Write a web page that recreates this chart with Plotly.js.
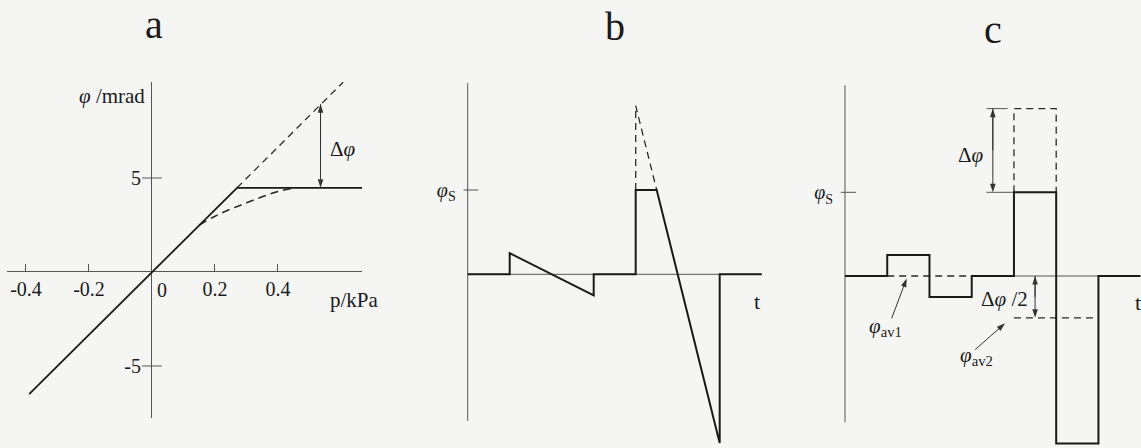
<!DOCTYPE html>
<html><head><meta charset="utf-8">
<script src="https://cdn.plot.ly/plotly-3.0.1.min.js"></script>
<style>html,body{margin:0;padding:0;background:#f5f5f3}</style>
</head><body><div id="chart" style="width:1141px;height:448px"></div>
<script>
// ---------- Panel a : phi (mrad) vs p (kPa) ----------
const aTickP = [-0.4, -0.2, 0.2, 0.4];
const aTickPLabels = ['-0.4', '-0.2', '0.2', '0.4'];
const aTickPhi = [-5, 5];
const aTickPhiLabels = ['-5', '5'];
const aResponseP   = [-0.39, 0, 0.27, 0.667];
const aResponsePhi = [-6.5, 0, 4.48, 4.48];
const aLinearP   = [0.27, 0.607];
const aLinearPhi = [4.48, 10.1];
const aCurveP   = [0.15, 0.2, 0.25, 0.3, 0.35, 0.4, 0.45];
const aCurvePhi = [2.5, 2.97, 3.35, 3.68, 4.0, 4.28, 4.46];
const aDeltaP = [0.535, 0.535, 0.535], aDeltaPhi = [6.7, 8.93, 4.48];

// ---------- Panel b : clipped ramp signal ----------
const bT   = [0, 1, 1, 3, 3, 4, 4, 4.5, 6, 6, 7];
const bPhi = [0, 0, 0.25, -0.25, 0, 0, 1, 1, -2, 0, 0];
const bUnclippedT   = [4, 4, 4.5];
const bUnclippedPhi = [1, 2, 1];
const bXAxisT = [0, 7], bXAxisPhi = [0, 0];
const bYAxisT = [0, 0], bYAxisPhi = [-1.74, 2.27];
const bPhiS = 1;

// ---------- Panel c : clipped rectangular signal ----------
const cT   = [0, 1, 1, 2, 2, 3, 3, 4, 4, 5, 5, 6, 6, 7];
const cPhi = [0, 0, 0.25, 0.25, -0.25, -0.25, 0, 0, 1, 1, -2, -2, 0, 0];
const cUnclippedT   = [4, 4, 5, 5];
const cUnclippedPhi = [1, 2, 2, 1];
const cAv1T = [1, 3], cAv1Phi = [0, 0];
const cAv2T = [4, 6], cAv2Phi = [-0.5, -0.5];
const cXAxis1T = [0, 1], cXAxis2T = [3, 7], cXAxisPhi = [0, 0];
const cYAxisT = [0, 0], cYAxisPhi = [-1.75, 2.28];
const cGuideTopT = [3.35, 3.85], cGuideTopPhi = [2, 2];
const cGuideBotT = [3.35, 4], cGuideBotPhi = [1, 1];
const cPhiS = 1;
const cDeltaT = [3.5, 3.5, 3.5], cDeltaPhi = [1.5, 2, 1];
const cHalfT = [4.5, 4.5, 4.5], cHalfPhi = [-0.25, 0, -0.5];
const cAv1ArrowT = [1.105, 1.46], cAv1ArrowPhi = [-0.505, -0.03];
const cAv2ArrowT = [3.08, 3.79], cAv2ArrowPhi = [-0.88, -0.565];

// ---------- geometry ----------
const W = 1141, H = 448;
const FONT = '"Liberation Serif", "DejaVu Serif", serif';
const INK = '#1a1a1a', AX = '#555';
function xDom(o, k, r) { return [(o + r[0] * k) / W, (o + r[1] * k) / W]; }
function yDom(o, k, r) { return [1 - (o - r[0] * k) / H, 1 - (o - r[1] * k) / H]; }
function paperAt(dom, r, v) { return dom[0] + (v - r[0]) / (r[1] - r[0]) * (dom[1] - dom[0]); }

const A = {ox: 152, oy: 272, kx: 315, ky: 18.8, xr: [-0.4603, 0.6667], yr: [-7.766, 10.106]};
const B = {ox: 467.7, oy: 274.3, kx: 42, ky: 84.3, xr: [-0.1, 7.05], yr: [-2.058, 2.30]};
const C = {ox: 845, oy: 276, kx: 42.24, ky: 83.7, xr: [-0.1, 6.999], yr: [-2.05, 2.34]};
for (const P of [A, B, C]) { P.xd = xDom(P.ox, P.kx, P.xr); P.yd = yDom(P.oy, P.ky, P.yr); }

function ln(x, y, xa, ya, opt) {
  return Object.assign({x: x, y: y, xaxis: xa, yaxis: ya, mode: 'lines', hoverinfo: 'skip',
    showlegend: false, line: {color: INK, width: 2}}, opt || {});
}
// arrow: heads drawn at every point after the first, oriented along the path
function arw(x, y, xa, ya) {
  return {x: x, y: y, xaxis: xa, yaxis: ya, mode: 'lines+markers', hoverinfo: 'skip', showlegend: false,
    line: {color: '#333', width: 1},
    marker: {symbol: 'arrow', angleref: 'previous', size: 9, color: '#333', line: {width: 0}}};
}
const dashed = {line: {color: '#2a2a2a', width: 1.3, dash: '7px,5px'}};
const thin = {line: {color: AX, width: 1}};

const traces = [
  // a
  ln(aLinearP, aLinearPhi, 'x', 'y', dashed),
  ln(aCurveP, aCurvePhi, 'x', 'y', {line: {color: '#2a2a2a', width: 1.6, dash: '8px,5px', shape: 'spline'}}),
  ln(aResponseP, aResponsePhi, 'x', 'y', {line: {color: INK, width: 1.8}}),
  arw(aDeltaP, aDeltaPhi, 'x', 'y'),
  // b
  ln(bXAxisT, bXAxisPhi, 'x2', 'y2', thin),
  ln(bYAxisT, bYAxisPhi, 'x2', 'y2', thin),
  ln(bUnclippedT, bUnclippedPhi, 'x2', 'y2', dashed),
  ln(bT, bPhi, 'x2', 'y2'),
  // c
  ln(cXAxis1T, cXAxisPhi, 'x3', 'y3', thin),
  ln(cXAxis2T, cXAxisPhi, 'x3', 'y3', thin),
  ln(cYAxisT, cYAxisPhi, 'x3', 'y3', thin),
  ln(cAv1T, cAv1Phi, 'x3', 'y3', dashed),
  ln(cAv2T, cAv2Phi, 'x3', 'y3', dashed),
  ln(cUnclippedT, cUnclippedPhi, 'x3', 'y3', dashed),
  ln(cGuideTopT, cGuideTopPhi, 'x3', 'y3', thin),
  ln(cGuideBotT, cGuideBotPhi, 'x3', 'y3', thin),
  ln(cT, cPhi, 'x3', 'y3'),
  arw(cDeltaT, cDeltaPhi, 'x3', 'y3'),
  arw(cHalfT, cHalfPhi, 'x3', 'y3'),
  arw(cAv1ArrowT, cAv1ArrowPhi, 'x3', 'y3'),
  arw(cAv2ArrowT, cAv2ArrowPhi, 'x3', 'y3')
];

const tf = {family: FONT, size: 20, color: INK};
const hidden = {visible: false, fixedrange: true};
const layout = {
  width: W, height: H, margin: {l: 0, r: 0, t: 0, b: 0},
  paper_bgcolor: '#f5f5f3', plot_bgcolor: 'rgba(0,0,0,0)',
  font: {family: FONT, color: INK},
  xaxis: {domain: A.xd, range: A.xr, anchor: 'free', position: paperAt(A.yd, A.yr, 0),
    tickvals: aTickP, ticktext: aTickPLabels, ticks: 'inside', ticklen: 8, tickwidth: 1, tickcolor: AX,
    ticklabelstandoff: 3,
    showgrid: false, showline: false, zeroline: true, zerolinecolor: AX, zerolinewidth: 1,
    tickfont: tf, fixedrange: true},
  yaxis: {domain: A.yd, range: A.yr, anchor: 'free', position: paperAt(A.xd, A.xr, 0),
    tickvals: aTickPhi, ticktext: aTickPhiLabels, ticks: '', ticklabelstandoff: 11,
    showgrid: false, showline: false, zeroline: true, zerolinecolor: AX, zerolinewidth: 1,
    tickfont: tf, fixedrange: true},
  xaxis2: Object.assign({domain: B.xd, range: B.xr, anchor: 'y2'}, hidden),
  yaxis2: {domain: B.yd, range: B.yr, anchor: 'free', position: paperAt(B.xd, B.xr, 0),
    tickvals: [bPhiS], ticktext: ['<i>φ</i><sub>S</sub>'], ticks: '', ticklabelstandoff: 12,
    showgrid: false, showline: false, zeroline: false, tickfont: tf, fixedrange: true},
  xaxis3: Object.assign({domain: C.xd, range: C.xr, anchor: 'y3'}, hidden),
  yaxis3: {domain: C.yd, range: C.yr, anchor: 'free', position: paperAt(C.xd, C.xr, 0),
    tickvals: [cPhiS], ticktext: ['<i>φ</i><sub>S</sub>'], ticks: '', ticklabelstandoff: 12,
    showgrid: false, showline: false, zeroline: false, tickfont: tf, fixedrange: true},
  shapes: [], annotations: []
};

// crossing tick marks on vertical axes
function crossTick(xa, ya, v, half) {
  return {type: 'line', xref: xa, yref: ya, xsizemode: 'pixel', xanchor: 0, x0: -half, x1: half,
    y0: v, y1: v, line: {color: AX, width: 1}};
}
aTickPhi.forEach(v => layout.shapes.push(crossTick('x', 'y', v, 10)));
layout.shapes.push(crossTick('x2', 'y2', bPhiS, 10.5));
layout.shapes.push(crossTick('x3', 'y3', cPhiS, 11));

function txt(text, xa, ya, x, y, xanchor, size) {
  return {text: text, xref: xa, yref: ya, x: x, y: y, xanchor: xanchor || 'center', yanchor: 'middle',
    showarrow: false, font: {family: FONT, size: size || 20, color: INK}};
}
const an = layout.annotations;
function title(t, px, py) {
  an.push({text: t, xref: 'paper', yref: 'paper', x: px / W, y: 1 - py / H, showarrow: false,
    xanchor: 'center', yanchor: 'middle', font: {family: FONT, size: 40, color: INK}});
}
title('a', 153.5, 24); title('b', 615, 27); title('c', 992.5, 29);
// panel a
an.push(txt('<i>φ</i> /mrad', 'x', 'y', -0.016, 9.36, 'right', 21));
an.push(txt('p/kPa', 'x', 'y', 0.559, -1.49, 'left', 21));
an.push(txt('0', 'x', 'y', 0.031, -0.96, 'center'));
an.push(txt('Δ<i>φ</i>', 'x', 'y', 0.559, 6.55, 'left', 21));
an.push(txt('<i>φ</i><sub>S</sub>', 'x', 'y', 0.686, 4.36, 'left', 22));
// panel b
an.push(txt('<i>φ</i>', 'x2', 'y2', -0.35, 2.13, 'center', 21));
an.push(txt('t', 'x2', 'y2', 6.89, -0.325, 'center', 22));
// panel c
an.push(txt('<i>φ</i>', 'x3', 'y3', -0.28, 2.04, 'center', 21));
an.push(txt('t', 'x3', 'y3', 6.94, -0.32, 'center', 22));
an.push(txt('Δ<i>φ</i>', 'x3', 'y3', 3.33, 1.45, 'right', 21));
an.push(txt('Δ<i>φ</i> /2', 'x3', 'y3', 4.38, -0.27, 'right', 21));
an.push(txt('<i>φ</i><sub>av1</sub>', 'x3', 'y3', 0.95, -0.615, 'center', 21));
an.push(txt('<i>φ</i><sub>av2</sub>', 'x3', 'y3', 3.12, -0.96, 'center', 21));

Plotly.newPlot('chart', traces, layout, {displayModeBar: false, staticPlot: true}).then(gd => {
  // drop empty placeholder text nodes Plotly leaves behind (e.g. blank axis titles)
  gd.querySelectorAll('text').forEach(t => { if (!t.textContent.trim()) t.remove(); });
});
</script>
</body></html>
